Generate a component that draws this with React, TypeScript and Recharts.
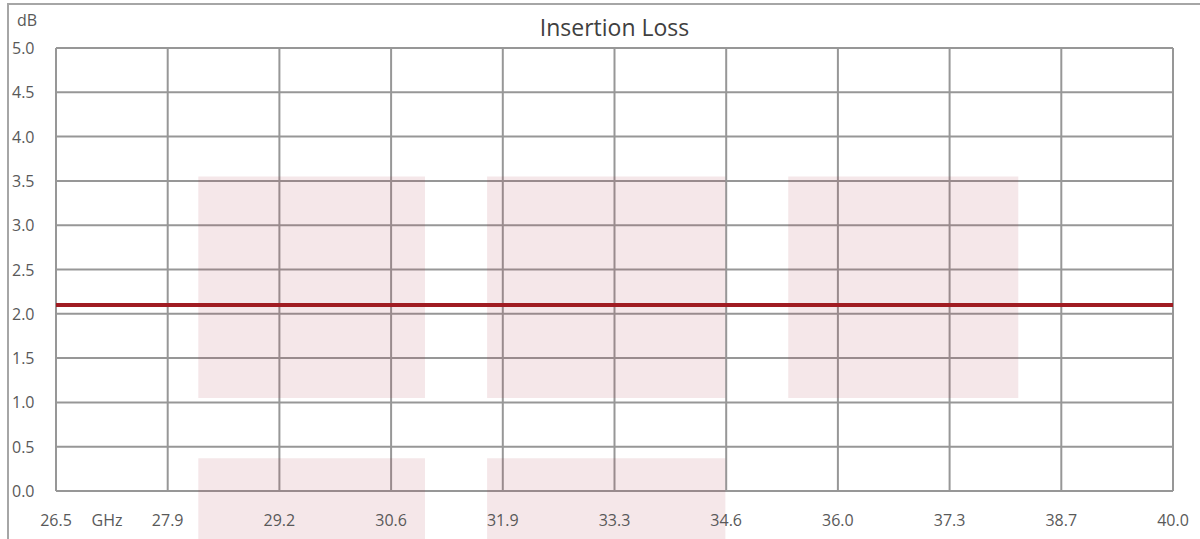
import React from 'react';
import {
  LineChart,
  Line,
  XAxis,
  YAxis,
  CartesianGrid,
  ReferenceArea,
} from 'recharts';

// frequency ticks (GHz) and their printed labels
const xTicks = [26.5, 27.85, 29.2, 30.55, 31.9, 33.25, 34.6, 35.95, 37.3, 38.65, 40.0];
const xTickLabels = ['26.5', '27.9', '29.2', '30.6', '31.9', '33.3', '34.6', '36.0', '37.3', '38.7', '40.0'];

// dB ticks
const yTicks = [0, 0.5, 1, 1.5, 2, 2.5, 3, 3.5, 4, 4.5, 5];

// measured insertion loss (flat)
const lossFreq = [26.5, 27.85, 29.2, 30.55, 31.9, 33.25, 34.6, 35.95, 37.3, 38.65, 40.0];
const lossDb = [2.1, 2.1, 2.1, 2.1, 2.1, 2.1, 2.1, 2.1, 2.1, 2.1, 2.1];

// shaded bands: [x1, x2, y1, y2]
const bandStart = [28.22, 31.71, 35.35, 28.22, 31.71];
const bandEnd = [30.96, 34.59, 38.13, 30.96, 34.59];
const bandLow = [1.05, 1.05, 1.05, -0.6, -0.6];
const bandHigh = [3.55, 3.55, 3.55, 0.37, 0.37];

const data = lossFreq.map((f, i) => ({ f, loss: lossDb[i] }));

const FONT = '"Open Sans", "Liberation Sans", sans-serif';
const LABEL = '#595959';
const GRID = '#979797';

const XTick = (props: any) => {
  const { x, y, payload, index } = props;
  const i = xTicks.indexOf(payload.value);
  return (
    <g>
      <text x={x} y={y + 29} textAnchor="middle" dominantBaseline="central" fill={LABEL} fontSize={16} fontFamily={FONT}>
        {i >= 0 ? xTickLabels[i] : payload.value}
      </text>
      {index === 0 && (
        <text x={x + 51} y={y + 29} textAnchor="middle" dominantBaseline="central" fill={LABEL} fontSize={16} fontFamily={FONT}>
          GHz
        </text>
      )}
    </g>
  );
};

const YTick = (props: any) => {
  const { y, payload } = props;
  return (
    <text x={12} y={y} textAnchor="start" dominantBaseline="central" fill={LABEL} fontSize={16} fontFamily={FONT}>
      {payload.value.toFixed(1)}
    </text>
  );
};

export default function App() {
  return (
    <div style={{ position: 'absolute', left: 0, top: 0, width: 1200, height: 539, background: '#fff', overflow: 'hidden' }}>
      <div
        style={{
          position: 'absolute',
          left: 7,
          top: 3,
          width: 1200,
          height: 540,
          borderLeft: '2px solid #a6a6a6',
          borderTop: '2px solid #a6a6a6',
        }}
      />
      <div style={{ position: 'absolute', left: 17, top: 9, fontFamily: FONT, fontSize: 16, color: LABEL }}>dB</div>
      <div
        style={{
          position: 'absolute',
          left: 56,
          width: 1117,
          top: 11,
          textAlign: 'center',
          fontFamily: FONT,
          fontSize: 23,
          color: '#404040',
        }}
      >
        Insertion Loss
      </div>
      <div style={{ position: 'absolute', left: 0, top: 0 }}>
        <LineChart width={1200} height={539} data={data} margin={{ top: 48, right: 27, bottom: 0, left: 0 }}>
          <CartesianGrid stroke={GRID} strokeWidth={2} />
          <XAxis
            dataKey="f"
            type="number"
            domain={[26.5, 40]}
            ticks={xTicks}
            tick={<XTick />}
            tickLine={false}
            axisLine={false}
            tickSize={0}
            tickMargin={0}
            height={48}
            allowDataOverflow
          />
          <YAxis
            type="number"
            domain={[0, 5]}
            ticks={yTicks}
            tick={<YTick />}
            tickLine={false}
            axisLine={false}
            width={56}
            allowDataOverflow
          />
          {bandStart.map((x1, i) => (
            <ReferenceArea
              key={i}
              x1={x1}
              x2={bandEnd[i]}
              y1={bandLow[i]}
              y2={bandHigh[i]}
              fill="#b03a48"
              fillOpacity={0.12}
              stroke="none"
              ifOverflow="visible"
            />
          ))}
          <Line
            dataKey="loss"
            stroke="#a01c22"
            strokeWidth={4}
            dot={false}
            activeDot={false}
            isAnimationActive={false}
          />
        </LineChart>
      </div>
    </div>
  );
}
